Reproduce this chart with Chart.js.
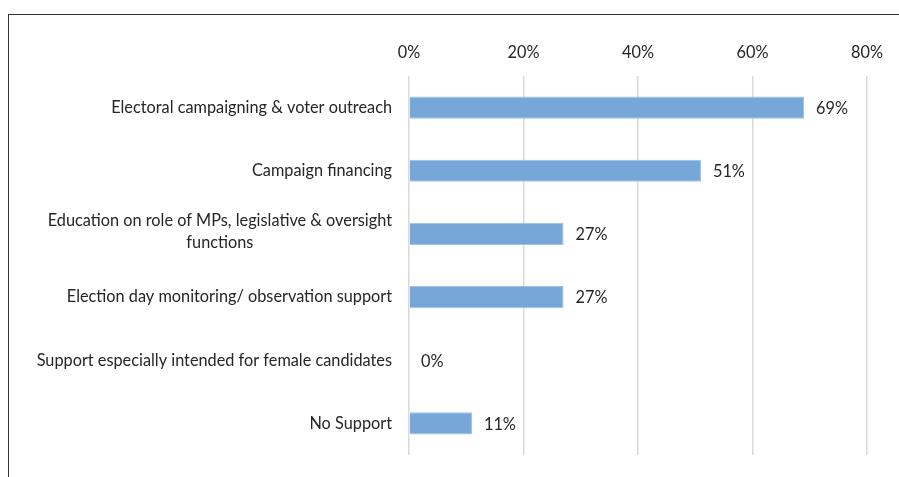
<!DOCTYPE html>
<html>
<head>
<meta charset="utf-8">
<script src="https://cdn.jsdelivr.net/npm/chart.js@4"></script>
<style>
  html, body { margin: 0; padding: 0; background: #fff; }
  #wrap { position: relative; width: 899px; height: 477px; }
  #frame { position: absolute; left: 8px; top: 14px; right: 0; bottom: 0;
           border-left: 1.5px solid #333; border-top: 1.5px solid #333; }
  canvas { position: absolute; left: 0; top: 0; }
</style>
</head>
<body>
<div id="wrap">
  <div id="frame"></div>
  <canvas id="supportChart" width="899" height="477"></canvas>
</div>
<script>
const categories = [
    ['Electoral campaigning & voter outreach'],
    ['Campaign financing'],
    ['Education on role of MPs, legislative & oversight', 'functions'],
    ['Election day monitoring/ observation support'],
    ['Support especially intended for female candidates'],
    ['No Support']
];
const shares = [69, 51, 27, 27, 0, 11];
const tickValues = [0, 20, 40, 60, 80];

const textColor = '#262626';
const fontFamily = 'Lato, "Open Sans", sans-serif';
const fontSize = 16.3;

// category labels: right edge next to the axis, extra lines centred under the first
const categoryLabels = {
    id: 'categoryLabels',
    afterDraw(chart) {
        const { ctx, scales: { y } } = chart;
        ctx.save();
        ctx.font = fontSize + 'px ' + fontFamily;
        ctx.fillStyle = textColor;
        ctx.textBaseline = 'middle';
        ctx.textAlign = 'center';
        const right = y.right - 17;
        const lineH = 22;
        categories.forEach((lines, i) => {
            const cy = y.getPixelForValue(i);
            const w = Math.max(...lines.map(l => ctx.measureText(l).width));
            const top = lines.length > 1 ? cy - 13 : cy;
            lines.forEach((l, j) => ctx.fillText(l, right - w / 2, top + j * lineH));
        });
        ctx.restore();
    }
};

// value labels just past the end of each bar
const valueLabels = {
    id: 'valueLabels',
    afterDatasetsDraw(chart) {
        const { ctx } = chart;
        const meta = chart.getDatasetMeta(0);
        ctx.save();
        ctx.font = fontSize + 'px ' + fontFamily;
        ctx.fillStyle = textColor;
        ctx.textBaseline = 'middle';
        ctx.textAlign = 'left';
        meta.data.forEach((bar, i) => {
            ctx.fillText(shares[i] + '%', bar.x + 12, bar.y + 1);
        });
        ctx.restore();
    }
};

new Chart(document.getElementById('supportChart').getContext('2d'), {
    type: 'bar',
    data: {
        labels: categories.map(c => c.join(' ')),
        datasets: [{
            data: shares,
            backgroundColor: '#76a7d8',
            borderColor: '#9dc3e6',
            borderWidth: 1,
            barPercentage: 0.35,
            categoryPercentage: 1
        }]
    },
    options: {
        responsive: false,
        animation: false,
        indexAxis: 'y',
        layout: { padding: { top: 0, right: 32, bottom: 22, left: 0 } },
        plugins: { legend: { display: false }, tooltip: { enabled: false } },
        scales: {
            x: {
                position: 'top',
                min: 0,
                max: 80,
                afterBuildTicks: scale => { scale.ticks = tickValues.map(v => ({ value: v })); },
                afterFit: scale => { scale.height = 76; },
                grid: { color: '#d9d9d9', lineWidth: 1.5, drawTicks: false },
                border: { display: false },
                ticks: {
                    padding: 13,
                    color: textColor,
                    font: { family: fontFamily, size: fontSize },
                    callback: v => v + '%'
                }
            },
            y: {
                afterFit: scale => { scale.width = 409; },
                grid: { display: false },
                border: { display: false },
                ticks: { display: false }
            }
        }
    },
    plugins: [categoryLabels, valueLabels]
});
</script>
</body>
</html>
